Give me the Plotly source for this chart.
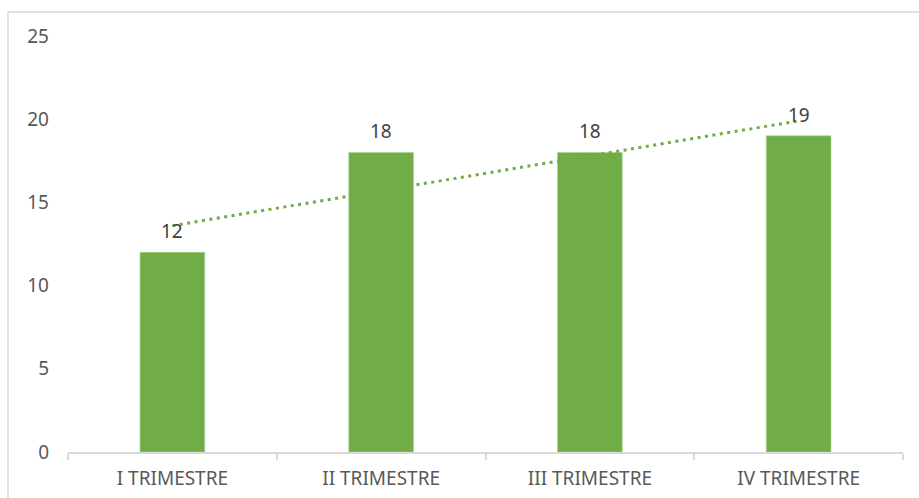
import numpy as np
import plotly.graph_objects as go

categories = ["I TRIMESTRE", "II TRIMESTRE", "III TRIMESTRE", "IV TRIMESTRE"]
values = [12, 18, 18, 19]
y_ticks = [0, 5, 10, 15, 20, 25]

# linear trendline (least squares) from the series values
xi = np.arange(1, len(values) + 1)
slope, intercept = np.polyfit(xi, values, 1)
trend = list(slope * xi + intercept)

W, H = 919, 498
L, R, T, B = 68, 16, 36, 46
GREEN = "#70AD47"
FONT = "Noto Sans"

fig = go.Figure()
fig.add_trace(go.Bar(
    x=categories, y=values, width=0.31,
    marker=dict(color=GREEN, line=dict(color="#A9D18E", width=0.6)),
    hoverinfo="skip",
))
fig.add_trace(go.Scatter(
    x=categories, y=trend, mode="lines",
    line=dict(color=GREEN, width=3, dash="3px,4.5px"),
    hoverinfo="skip", cliponaxis=False,
))

for c, v in zip(categories, values):
    fig.add_annotation(x=c, y=v, text=str(v), showarrow=False,
                       yshift=21, font=dict(family=FONT, size=19, color="#404040"))

pw = W - L - R
ph = H - T - B
fig.add_shape(type="rect", xref="paper", yref="paper",
              x0=(8 - L) / pw, x1=(W + 10 - L) / pw,
              y0=-(H + 10 - T - ph) / ph, y1=(ph + T - 12) / ph,
              line=dict(color="#D9D9D9", width=1.5), layer="below")

fig.update_layout(
    width=W, height=H,
    margin=dict(l=L, r=R, t=T, b=B),
    paper_bgcolor="white", plot_bgcolor="white",
    showlegend=False,
    font=dict(family=FONT, size=19, color="#595959"),
    xaxis=dict(
        type="category", range=[-0.5, 3.5], automargin=False,
        showline=True, linecolor="#D9D9D9", linewidth=1.5,
        ticks="outside", tickson="boundaries", ticklen=6, tickcolor="#D9D9D9", tickwidth=1.5,
        showgrid=False, ticklabelstandoff=8,
        tickfont=dict(family=FONT, size=19, color="#595959"),
    ),
    yaxis=dict(
        range=[0, 25], tickvals=y_ticks, showgrid=False, zeroline=False,
        showline=False, ticklabelstandoff=18, automargin=False,
        tickfont=dict(family=FONT, size=19, color="#595959"),
    ),
)

fig.write_html("out.html")
